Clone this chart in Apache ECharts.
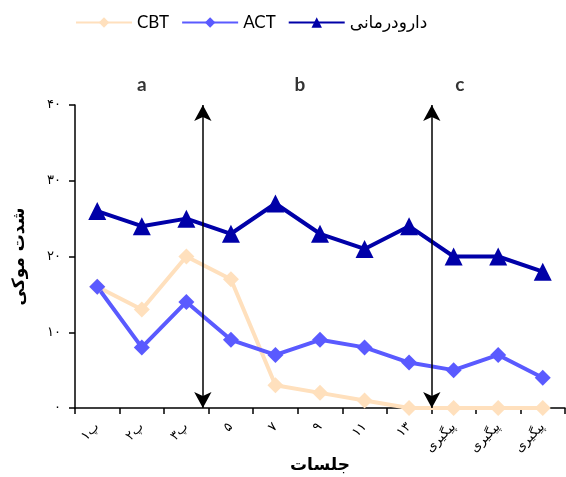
<!DOCTYPE html>
<html><head><meta charset="utf-8">
<script src="https://cdn.jsdelivr.net/npm/echarts@6/dist/echarts.min.js"></script>
<style>html,body{margin:0;padding:0;background:#fff}#c{width:566px;height:477px}</style>
</head><body><div id="c"></div>
<script>
const categories = ['پ۱','پ۲','پ۳','۵','۷','۹','۱۱','۱۳','پیگیری','پیگیری','پیگیری'];
const yTickLabels = ['۰','۱۰','۲۰','۳۰','۴۰'];
const cbt = [16, 13, 20, 17, 3, 2, 1, 0, 0, 0, 0];
const act = [16, 8, 14, 9, 7, 9, 8, 6, 5, 7, 4];
const drug = [26, 24, 25, 23, 27, 23, 21, 24, 20, 20, 18];
const phaseLabels = ['a','b','c'];
const phaseX = [1.0, 4.55, 8.14];
const arrowX = [2.37, 7.51];

const chart = echarts.init(document.getElementById('c'));
const ff = 'Lato, "DejaVu Sans", sans-serif';
chart.setOption({
  animation: false,
  textStyle: {fontFamily: ff},
  legend: {
    data: ['CBT','ACT','دارودرمانی'],
    left: 70, top: 9, itemWidth: 56, itemHeight: 13, itemGap: 12,
    textStyle: {fontSize: 17, color: '#000', fontFamily: ff}
  },
  grid: {left: 75, right: 1, top: 105, bottom: 69, containLabel: false, outerBoundsMode: 'none'},
  xAxis: [{
    type: 'category', data: categories, boundaryGap: true,
    axisLine: {lineStyle: {color: '#000', width: 1.5}},
    axisTick: {show: true, length: 6, inside: false, alignWithLabel: false, lineStyle: {color: '#000', width: 1.5}},
    axisLabel: {rotate: 45, interval: 0, color: '#000', fontSize: 13, margin: 17, fontFamily: '"DejaVu Sans", sans-serif'},
    name: 'جلسات', nameLocation: 'middle', nameGap: 49, nameMoveOverlap: false,
    nameTextStyle: {fontSize: 17, fontWeight: 'bold', color: '#000', fontFamily: '"DejaVu Sans", sans-serif'}
  },{
    type: 'value', min: -0.5, max: 10.5, show: false
  }],
  yAxis: {
    type: 'value', min: 0, max: 40, interval: 10,
    axisLine: {show: true, onZero: false, lineStyle: {color: '#000', width: 1.5}},
    axisTick: {show: true, length: 6, lineStyle: {color: '#000', width: 1.5}},
    splitLine: {show: false},
    axisLabel: {color: '#000', fontSize: 13, margin: 14, fontFamily: '"DejaVu Sans", sans-serif',
      formatter: (v) => yTickLabels[Math.round(v / 10)]},
    name: 'شدت موکی', nameLocation: 'middle', nameGap: 47, nameRotate: 90,
    nameTextStyle: {fontSize: 17, fontWeight: 'bold', color: '#000', fontFamily: '"DejaVu Sans", sans-serif'}
  },
  series: [
    {name: 'CBT', type: 'line', data: cbt, symbol: 'diamond', symbolSize: 16,
     color: '#FFE0BD', lineStyle: {width: 4, color: '#FFE0BD'}, itemStyle: {color: '#FFE0BD'}},
    {name: 'ACT', type: 'line', data: act, symbol: 'diamond', symbolSize: 16,
     color: '#5A5AFF', lineStyle: {width: 4, color: '#5A5AFF'}, itemStyle: {color: '#5A5AFF'}},
    {name: 'دارودرمانی', type: 'line', data: drug, symbol: 'triangle', symbolSize: 18,
     color: '#0000A8', lineStyle: {width: 4, color: '#0000A8'}, itemStyle: {color: '#0000A8'}},
    {name: 'annot', type: 'scatter', xAxisIndex: 1, clip: false, symbolSize: 0,
     data: phaseLabels.map((t, i) => [phaseX[i], 42.6, t]),
     label: {show: true, position: 'inside', formatter: (p) => p.data[2], fontSize: 19, fontWeight: 'bold', color: '#000', fontFamily: ff},
     markLine: {
       silent: true, z: 10, symbol: ['arrow','arrow'], symbolSize: [13, 16],
       lineStyle: {color: '#000', width: 1.5, type: 'solid'}, label: {show: false},
       data: arrowX.map(x => [{coord: [x, 0]}, {coord: [x, 40]}])
     }}
  ]
});
</script></body></html>
